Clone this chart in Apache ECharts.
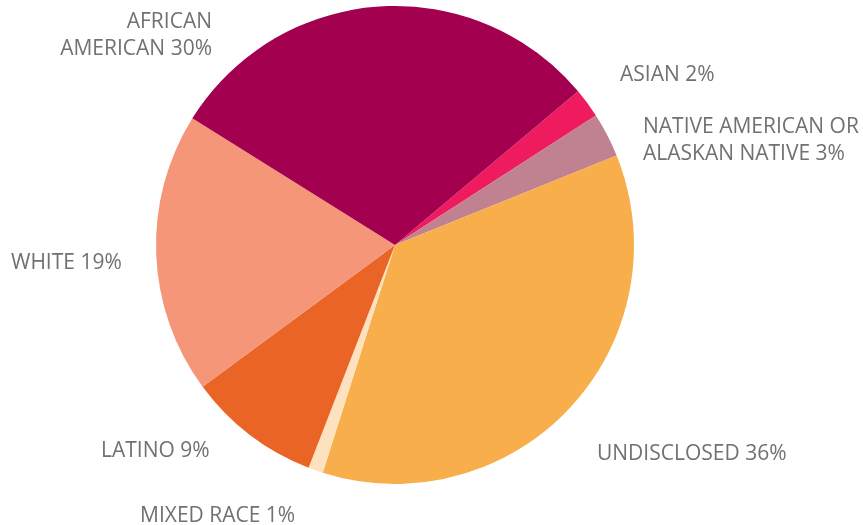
<!DOCTYPE html>
<html>
<head>
<meta charset="utf-8">
<script src="https://cdn.jsdelivr.net/npm/echarts@6/dist/echarts.min.js"></script>
<style>
  html, body { margin: 0; padding: 0; background: #fff; }
  #chart { width: 863px; height: 525px; }
</style>
</head>
<body>
<div id="chart"></div>
<script>
// slices, clockwise from the top right
const categories = ['ASIAN', 'NATIVE AMERICAN OR\nALASKAN NATIVE', 'UNDISCLOSED', 'MIXED RACE', 'LATINO', 'WHITE', 'AFRICAN\nAMERICAN'];
const shares = [2, 3, 36, 1, 9, 19, 30];
const colors = ['#EE1B5F', '#C08191', '#F7AE4B', '#FEE2BF', '#E96425', '#F69679', '#A3004F'];

// where each label sits (x, y, align)
const labelSpots = [
  [620, 75, 'left'],
  [643, 141, 'left'],
  [597, 454, 'left'],
  [140, 516, 'left'],
  [101, 451, 'left'],
  [11, 263, 'left'],
  [212, 36, 'right']
];

const chart = echarts.init(document.getElementById('chart'), null, { renderer: 'canvas' });

chart.setOption({
  animation: false,
  color: colors,
  series: [{
    type: 'pie',
    center: [395, 245],
    radius: 239,
    startAngle: 40,
    clockwise: true,
    avoidLabelOverlap: false,
    itemStyle: { borderWidth: 0 },
    label: {
      show: true,
      position: 'outside',
      formatter: (p) => p.name + ' ' + p.value + '%',
      color: '#717175',
      fontFamily: 'Open Sans',
      fontSize: 21,
      lineHeight: 27
    },
    labelLine: { show: false },
    labelLayout: (params) => {
      const s = labelSpots[params.dataIndex];
      return { x: s[0], y: s[1], align: s[2], verticalAlign: 'middle' };
    },
    emphasis: { disabled: true },
    data: categories.map((name, i) => ({ name: name, value: shares[i] }))
  }]
});
</script>
</body>
</html>
